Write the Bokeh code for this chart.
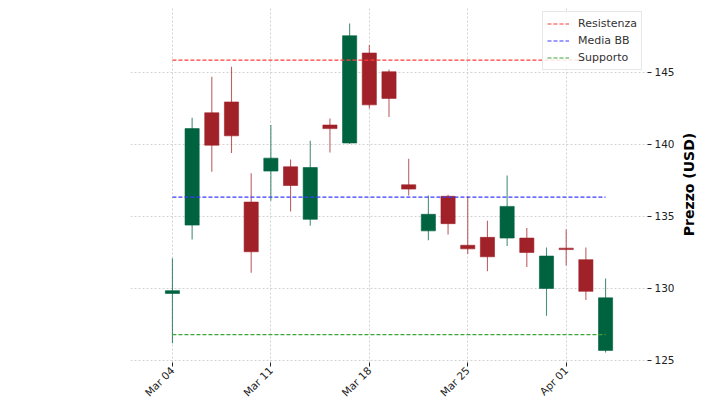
import math
from bokeh.plotting import figure
from bokeh.layouts import row
from bokeh.models import FixedTicker, Range1d, ColumnDataSource, Label
from bokeh.embed import file_html
from bokeh.resources import INLINE
import pandas as pd

# ---- data ----
dates = ["2024-03-04", "2024-03-05", "2024-03-06", "2024-03-07", "2024-03-08",
         "2024-03-11", "2024-03-12", "2024-03-13", "2024-03-14", "2024-03-15",
         "2024-03-18", "2024-03-19", "2024-03-20", "2024-03-21", "2024-03-22",
         "2024-03-25", "2024-03-26", "2024-03-27", "2024-03-28", "2024-03-29",
         "2024-04-01", "2024-04-02", "2024-04-03"]
opens = [129.65, 134.4, 142.2, 142.95, 136.0,
         138.15, 138.45, 134.8, 141.35, 140.1,
         146.35, 145.05, 137.2, 134.0, 136.4,
         133.0, 133.55, 133.5, 133.5, 130.0,
         132.8, 132.0, 125.7]
highs = [132.1, 141.85, 144.7, 145.4, 138.0,
         141.35, 138.95, 140.25, 141.8, 148.4,
         146.9, 145.2, 139.0, 136.45, 136.5,
         136.4, 134.7, 137.85, 134.2, 132.85,
         134.1, 132.85, 130.7]
lows = [126.2, 133.4, 138.1, 139.4, 131.1,
        136.1, 135.35, 134.35, 139.45, 140.05,
        142.5, 141.9, 136.45, 133.35, 133.75,
        132.4, 131.2, 132.95, 131.5, 128.1,
        131.6, 129.2, 125.55]
closes = [129.85, 141.1, 139.95, 140.6, 132.55,
          139.05, 137.15, 138.4, 141.1, 147.55,
          142.75, 143.2, 136.9, 135.15, 134.5,
          132.75, 132.2, 135.7, 132.5, 132.25,
          132.7, 129.8, 129.35]
resistenza = 145.85
media_bb = 136.35
supporto = 126.8
y_ticks = [125, 130, 135, 140, 145]
y_label = "Prezzo (USD)"

UP = "#006340"
DOWN = "#A02128"

idx = list(range(len(dates)))
dts = pd.to_datetime(dates)
colors = [UP if c >= o else DOWN for o, c in zip(opens, closes)]
src = ColumnDataSource(dict(
    x=idx, open=opens, close=closes, high=highs, low=lows,
    top=[max(o, c) for o, c in zip(opens, closes)],
    bottom=[min(o, c) for o, c in zip(opens, closes)],
    color=colors))

x_ticks = [i for i, d in enumerate(dts) if d.weekday() == 0]
x_labels = {i: dts[i].strftime("%b %d") for i in x_ticks}

FRAME_W, FRAME_H = 517, 356
p = figure(frame_width=FRAME_W, frame_height=FRAME_H,
           x_range=Range1d(-2.13, 24.13), y_range=Range1d(124.86, 149.58),
           y_axis_location="right", toolbar_location=None,
           output_backend="svg", min_border_left=130, min_border_top=6,
           min_border_right=34, min_border_bottom=0)
p.outline_line_color = None
p.background_fill_color = "white"

# wicks and bodies
p.segment(x0="x", y0="high", x1="x", y1="low", source=src,
          line_color="color", line_width=1.1, line_alpha=0.7)
p.vbar(x="x", top="top", bottom="bottom", width=0.72, source=src,
       fill_color="color", line_color="color", line_width=0.6)

# levels
x_span = [idx[0], idx[-1]]
p.line(x_span, [resistenza, resistenza], line_color="#ff3b3b",
       line_dash="4 2", line_width=1.2, legend_label="Resistenza")
p.line(x_span, [media_bb, media_bb], line_color="#3b3bff",
       line_dash="4 2", line_width=1.2, legend_label="Media BB")
p.line(x_span, [supporto, supporto], line_color="#3aa63a",
       line_dash="4 2", line_width=1.2, legend_label="Supporto")

# grid
for g in (p.xgrid, p.ygrid):
    g.grid_line_color = "#c8c8c8"
    g.grid_line_dash = "2 2"
    g.grid_line_width = 0.8

# axes
p.xaxis.ticker = FixedTicker(ticks=x_ticks)
p.xaxis.major_label_overrides = x_labels
p.xaxis.major_label_orientation = math.pi / 4
p.yaxis.ticker = FixedTicker(ticks=y_ticks)
for ax in (p.xaxis, p.yaxis):
    ax.axis_line_color = None
    ax.major_tick_line_color = "#222222"
    ax.major_tick_in = 0
    ax.major_tick_out = 4
    ax.minor_tick_line_color = None
    ax.major_label_text_font = "DejaVu Sans"
    ax.major_label_text_font_size = "10.5px"
    ax.major_label_text_color = "#222222"
    ax.major_label_standoff = 3
p.xaxis.major_label_standoff = 2

# legend
lg = p.legend[0]
lg.location = "top_right"
lg.margin = 5
lg.padding = 4
lg.spacing = 2
lg.glyph_width = 22
lg.glyph_height = 15
lg.label_height = 15
lg.label_standoff = 9
lg.label_text_font = "DejaVu Sans"
lg.label_text_font_size = "11px"
lg.label_text_color = "#333333"
lg.border_line_color = "#d0d0d0"
lg.background_fill_alpha = 0.85

# y-axis title strip (reads bottom-to-top, centred on the plot frame)
LBL_W = 24
t = figure(frame_width=LBL_W, frame_height=FRAME_H, toolbar_location=None,
           output_backend="svg", x_axis_type=None, y_axis_type=None,
           min_border_left=0, min_border_right=0, min_border_top=6,
           min_border_bottom=0, x_range=Range1d(0, 1), y_range=Range1d(0, 1))
t.outline_line_color = None
t.grid.visible = False
t.add_layout(Label(x=7, y=FRAME_H / 2, x_units="screen", y_units="screen",
                   text=y_label, angle=math.pi / 2,
                   text_align="center", text_baseline="middle",
                   text_font="DejaVu Sans", text_font_style="bold",
                   text_font_size="14px", text_color="black"))

layout = row(p, t, spacing=0)
open("out.html", "w").write(file_html(layout, INLINE))
